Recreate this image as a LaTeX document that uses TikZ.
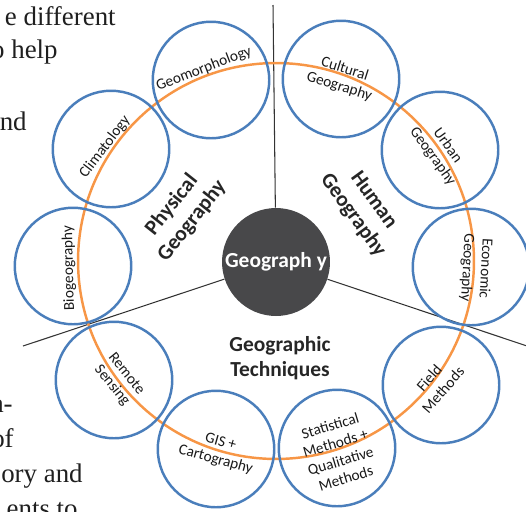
\documentclass[tikz,border=0pt]{standalone}
\usepackage{fontspec}
\setmainfont{Carlito}
\newfontfamily\pagefont{Liberation Serif}
\definecolor{ringblue}{HTML}{4A7EBB}
\definecolor{ringorange}{HTML}{F79646}
\definecolor{coregray}{HTML}{48484A}
\tikzset{
  ring/.style={circle, draw=ringblue, line width=1.4pt, minimum size=2.33cm, inner sep=0pt},
  ringtext/.style={align=center, inner sep=1pt, text=black!90, font=\fontsize{8.7}{10.4}\selectfont},
  branch/.style={align=center, inner sep=1pt, text=black!85, font=\fontsize{12.2}{14.6}\selectfont\bfseries},
  pagetext/.style={anchor=base east, inner sep=0pt, text=black!88, font=\pagefont\fontsize{15.3}{18}\selectfont},
  divider/.style={draw=black!80, line width=0.6pt}
}
\begin{document}
\begin{tikzpicture}[x=0.02cm, y=-0.02cm]
\useasboundingbox (0,0) rectangle (526,511);
% Page text cut by the figure
\node[pagetext] (p1) at (116,25) {e different};
\node[pagetext] (p2) at (58,58) {o help};
\node[pagetext] (p3) at (27,130) {nd};
\node[pagetext] (p4) at (13,412) {a-};
\node[pagetext] (p5) at (14,447) {of};
\node[pagetext] (p6) at (83,482) {ory and};
\node[pagetext] (p7) at (78,517) {ents to};

% Centre
\node[circle, fill=coregray, minimum size=2.16cm, inner sep=0pt, text=white,
      font=\fontsize{12.2}{14.6}\selectfont\bfseries] (geo) at (276,262) {Geograph y};

% Dividers
\coordinate (north) at (273,5);
\coordinate (west) at (23,346);
\coordinate (east) at (530,347);
\draw[divider] (north) -- (geo);
\draw[divider] (west) -- (geo);
\draw[divider] (east) -- (geo);

% Orange ring
\draw[ringorange, line width=1.4pt] (276,261) circle [radius=3.96cm];

% Sub-fields
\node[ring] (geomorph) at (211,80) {};
\node[ring] (cultural) at (341,79) {};
\node[ring] (urban) at (440,150) {};
\node[ring] (economic) at (471,267) {};
\node[ring] (field) at (441,385) {};
\node[ring] (stats) at (337,448) {};
\node[ring] (gis) at (216,449) {};
\node[ring] (remote) at (114,380) {};
\node[ring] (bio) at (73,266) {};
\node[ring] (clima) at (111,149) {};

\node[ringtext, rotate=21] (geomorph-t) at (204,69) {Geomorphology};
\node[ringtext, rotate=-17.6] (cultural-t) at (342,78) {Cultural\\Geography};
\node[ringtext, rotate=-54] (urban-t) at (440,151) {Urban\\Geography};
\node[ringtext, rotate=-93] (economic-t) at (476,268) {Economic\\Geography};
\node[ringtext, rotate=49] (field-t) at (436,384) {Field\\Methods};
\node[ringtext, rotate=16.7] (stats-t) at (338,452) {Statistical\\Methods +\\Qualitative\\Methods};
\node[ringtext, rotate=-15.6] (gis-t) at (218,451) {GIS +\\Cartography};
\node[ringtext, rotate=-51] (remote-t) at (119,380) {Remote\\Sensing};
\node[ringtext, rotate=91.4] (bio-t) at (69,268) {Biogeography};
\node[ringtext, rotate=52.5] (clima-t) at (105,147) {Climatology};

% Branches
\node[branch, rotate=51.7] (physical) at (182,213) {Physical\\Geography};
\node[branch, rotate=-54] (human) at (363,208) {Human\\Geography};
\node[branch] (techniques) at (280,358) {Geographic\\Techniques};
\end{tikzpicture}
\end{document}
